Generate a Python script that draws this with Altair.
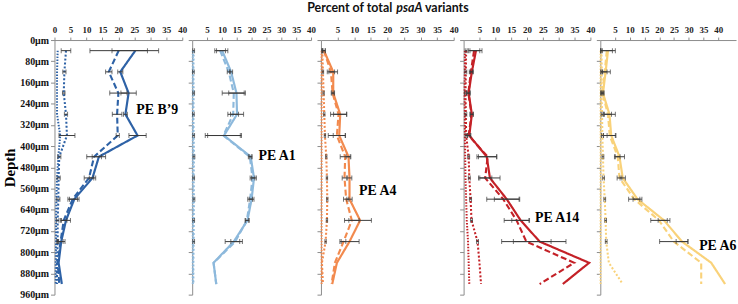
import altair as alt
import pandas as pd

# ---------------- data ----------------
depths = [40, 120, 200, 280, 360, 440, 520, 600, 680, 760, 840, 920]
depth_ticks = [0, 80, 160, 240, 320, 400, 480, 560, 640, 720, 800, 880, 960]
series_names = ["solid", "dashed", "dotA", "dotB"]

panel_labels = ["PE B\u20199", "PE A1", "PE A4", "PE A14", "PE A6"]
panel_colors = ["#2E62A6", "#8DB9DC", "#F28A4E", "#C42127", "#F9D27A"]

# PE B'9
b9_solid = [25.3, 20.6, 23.2, 22.2, 26.0, 13.9, 11.9, 6.2, 3.6, 2.1, 1.3, 2.3]
b9_dashed = [20.1, 17.0, 20.0, 19.6, 19.8, 12.4, 10.8, 5.7, 2.9, 1.9, 1.0, 1.5]
b9_dotA = [3.6, 3.1, 2.9, 3.6, 3.9, 1.5, 1.3, 1.2, 1.0, 1.0, 0.8, 0.8]
b9_dotB = [1.0, 0.8, 0.8, 0.8, 1.8, 1.2, 0.8, 0.6, 0.5, 0.5, 0.4, 0.4]
b9_solid_err = [7.3, 0.8, 2.4, 0.6, 2.7, 2.1, 1.0, 1.5, 1.4, 1.2]
b9_dashed_err = [9.0, 1.0, 2.7, 1.5, 0.5, 2.3, 1.5, 1.5, 1.0, 0.8]
b9_dotA_err = [1.5, 0.5, 0.4, 0.5, 2.5, 0.5, 0.5, 0.5, 0.4, 0.3]

# PE A1
a1_solid = [10.1, 13.1, 14.9, 15.1, 10.7, 19.7, 20.8, 20.0, 18.6, 14.0, 7.2, 8.1]
a1_dashed = [9.4, 12.3, 14.0, 13.8, 10.5, 19.4, 20.3, 19.5, 18.4, 14.5, 7.2, 8.1]
a1_dotA = [0.5, 0.4, 0.5, 0.4, 0.5, 0.6, 0.5, 0.6, 0.5, 0.5, 0.4, 0.4]
a1_dotB = [0.2, 0.2, 0.2, 0.2, 0.2, 0.2, 0.2, 0.2, 0.2, 0.2, 0.2, 0.2]
a1_solid_err = [1.9, 0.5, 2.6, 2.2, 5.5, 0.5, 0.8, 0.8, 0.6, 2.9]
a1_dashed_err = [1.8, 0.5, 3.9, 1.8, 6.1, 0.5, 0.8, 0.8, 0.6, 1.5]
a1_dotA_err = [0.3, 0.3, 0.3, 0.3, 0.3, 0.3, 0.3, 0.3, 0.3, 0.3]

# PE A4
a4_solid = [0.9, 3.7, 3.7, 5.8, 5.5, 8.3, 8.6, 8.6, 11.8, 8.6, 4.8, 3.4]
a4_dashed = [0.9, 3.0, 3.5, 5.3, 4.8, 7.3, 7.1, 7.6, 9.3, 6.8, 4.2, 3.2]
a4_dotA = [0.4, 0.6, 0.8, 1.0, 1.2, 1.6, 1.8, 1.9, 1.8, 1.4, 0.3, 0.6]
a4_dotB = [0.2, 0.2, 0.2, 0.2, 0.2, 0.2, 0.2, 0.2, 0.2, 0.2, 0.2, 0.2]
a4_solid_err = [0.4, 1.3, 0.4, 2.0, 1.8, 0.7, 0.7, 0.8, 3.4, 2.9]
a4_dashed_err = [0.4, 1.1, 0.4, 2.4, 2.6, 1.5, 0.7, 0.8, 2.2, 0.7]
a4_dotA_err = [0.2, 0.2, 0.2, 0.2, 0.2, 0.2, 0.2, 0.2, 0.2, 0.2]

# PE A14
a14_solid = [3.9, 2.6, 1.6, 2.6, 1.8, 7.3, 8.3, 13.6, 18.0, 24.0, 39.6, 31.3]
a14_dashed = [3.3, 2.3, 1.5, 2.5, 1.6, 7.6, 6.8, 12.5, 16.7, 19.8, 34.9, 24.0]
a14_dotA = [0.8, 0.7, 0.6, 0.7, 0.8, 1.6, 1.8, 2.2, 2.5, 4.4, 5.0, 5.5]
a14_dotB = [0.4, 0.4, 0.3, 0.4, 0.4, 0.5, 0.6, 0.8, 1.0, 1.4, 1.6, 1.8]
a14_solid_err = [1.9, 0.5, 0.5, 0.5, 0.5, 3.1, 3.2, 3.9, 2.8, 8.3]
a14_dashed_err = [1.8, 0.5, 0.5, 0.5, 0.5, 2.9, 2.1, 5.2, 3.9, 7.8]
a14_dotA_err = [0.3, 0.3, 0.3, 0.3, 0.3, 0.3, 0.3, 0.3, 0.3, 0.3]

# PE A6
a6_solid = [2.6, 1.8, 0.9, 3.1, 3.7, 6.5, 7.6, 12.6, 21.6, 27.7, 37.6, 42.3]
a6_dashed = [2.2, 1.5, 0.7, 2.6, 3.2, 5.9, 6.5, 11.5, 19.9, 24.9, 34.2, 34.2]
a6_dotA = [0.4, 0.5, 0.4, 0.6, 0.7, 0.9, 1.1, 1.5, 1.8, 2.0, 2.9, 7.6]
a6_dotB = [0.1, 0.1, 0.1, 0.1, 0.1, 0.1, 0.1, 0.1, 0.1, 0.1, 0.1, 0.1]
a6_solid_err = [2.5, 1.6, 0.4, 2.0, 1.4, 1.7, 0.9, 1.5, 2.0, 2.0]
a6_dashed_err = [1.9, 0.8, 0.4, 1.2, 2.1, 0.8, 0.8, 1.9, 2.8, 4.8]
a6_dotA_err = [0.3, 0.3, 0.3, 0.3, 0.3, 0.3, 0.3, 0.3, 0.3, 0.3]

# label anchor (x value, depth) per panel
label_x = [25.6, 22.3, 11.5, 22.5, 33.5]
label_depth = [265, 438, 570, 672, 775]

panel_data = [
    (b9_solid, b9_dashed, b9_dotA, b9_dotB, b9_solid_err, b9_dashed_err, b9_dotA_err),
    (a1_solid, a1_dashed, a1_dotA, a1_dotB, a1_solid_err, a1_dashed_err, a1_dotA_err),
    (a4_solid, a4_dashed, a4_dotA, a4_dotB, a4_solid_err, a4_dashed_err, a4_dotA_err),
    (a14_solid, a14_dashed, a14_dotA, a14_dotB, a14_solid_err, a14_dashed_err, a14_dotA_err),
    (a6_solid, a6_dashed, a6_dotA, a6_dotB, a6_solid_err, a6_dashed_err, a6_dotA_err),
]

# ---------------- layout ----------------
panel_widths = [129, 120, 134, 128, 137]
panel_xmax = [40, 40, 40, 40, 46]
PLOT_H = 257
SERIF = "Liberation Serif"
AX_GREY = "#8C8C8C"
ERR_COL = "#3A3A3A"


def make_panel(i):
    solid, dashed, dotA, dotB, s_err, d_err, a_err = panel_data[i]
    color = panel_colors[i]
    rows = []
    for name, vals in zip(series_names, [solid, dashed, dotA, dotB]):
        for d, v in zip(depths, vals):
            rows.append({"depth": d, "value": v, "series": name})
    df = pd.DataFrame(rows)

    erows = []
    caps = []
    for vals, errs in [(solid, s_err), (dashed, d_err), (dotA, a_err)]:
        for d, v, e in zip(depths, vals, errs):
            erows.append({"depth": d, "lo": v - e, "hi": v + e})
            caps.append({"depth": d, "cap": v - e})
            caps.append({"depth": d, "cap": v + e})
    edf = pd.DataFrame(erows)
    cdf = pd.DataFrame(caps)

    xs = alt.Scale(domain=[0, panel_xmax[i]], nice=False, zero=False)
    ys = alt.Scale(domain=[0, 960], reverse=True, nice=False, zero=False)
    xvals = list(range(0, 45, 5)) if i == 0 else list(range(5, 45, 5))
    xaxis = alt.Axis(orient="top", values=xvals, title=None, labelFont=SERIF,
                     labelFontWeight="bold", labelFontSize=9, labelColor="#222",
                     domainColor=AX_GREY, tickColor=AX_GREY, tickSize=3,
                     labelPadding=3, grid=False, labelFlush=False)
    if i == 0:
        yaxis = alt.Axis(values=depth_ticks, labelExpr="datum.value + '\u00b5m'",
                         title="Depth", titleFont=SERIF, titleFontWeight="bold",
                         titleFontSize=15, titleColor="black", titlePadding=2,
                         labelFont=SERIF, labelFontWeight="bold", labelFontSize=10,
                         labelColor="#111", domainColor=AX_GREY, tickColor=AX_GREY,
                         tickSize=4, labelPadding=2, grid=False)
    else:
        yaxis = alt.Axis(values=depth_ticks, labels=False, title=None,
                         domainColor=AX_GREY, tickColor=AX_GREY, tickSize=4, grid=False)

    def X(field):
        return alt.X(field, scale=xs, axis=xaxis)

    def Y():
        return alt.Y("depth:Q", scale=ys, axis=yaxis)

    lines = alt.Chart(df).mark_line(color=color, clip=False).encode(
        x=X("value:Q"),
        y=Y(),
        strokeDash=alt.StrokeDash("series:N", scale=alt.Scale(
            domain=series_names, range=[[1, 0], [6, 3], [2, 2], [1.5, 1.5]]), legend=None),
        strokeWidth=alt.StrokeWidth("series:N", scale=alt.Scale(
            domain=series_names, range=[2.2, 2.0, 1.5, 1.2]), legend=None),
        order=alt.Order("depth:Q"),
    )
    rules = alt.Chart(edf).mark_rule(color=ERR_COL, strokeWidth=1).encode(
        x=X("lo:Q"), x2="hi:Q", y=Y())
    capm = alt.Chart(cdf).mark_tick(orient="vertical", color=ERR_COL, size=5,
                                    thickness=1).encode(x=X("cap:Q"), y=Y())
    ldf = pd.DataFrame({"x": [label_x[i]], "depth": [label_depth[i]], "t": [panel_labels[i]]})
    label = alt.Chart(ldf).mark_text(align="left", baseline="middle", font=SERIF,
                                     fontWeight="bold", fontSize=14, color="black").encode(
        x=X("x:Q"), y=Y(), text="t:N")

    layers = [lines, rules, capm, label]
    if i == 2:
        tfont = "Lato"
        t1 = alt.Chart(pd.DataFrame({"t": ["Percent of total"]})).mark_text(
            align="right", baseline="middle", font=tfont, fontSize=12.5, fontWeight="bold",
            color="#111").encode(text="t:N", x=alt.value(72), y=alt.value(-32))
        t2 = alt.Chart(pd.DataFrame({"t": ["psaA"]})).mark_text(
            align="left", baseline="middle", font=tfont, fontSize=12.5, fontWeight="bold",
            fontStyle="italic", color="#111").encode(text="t:N", x=alt.value(76), y=alt.value(-32))
        t3 = alt.Chart(pd.DataFrame({"t": ["variants"]})).mark_text(
            align="left", baseline="middle", font=tfont, fontSize=12.5, fontWeight="bold",
            color="#111").encode(text="t:N", x=alt.value(105), y=alt.value(-32))
        layers += [t1, t2, t3]
    return alt.layer(*layers).properties(width=panel_widths[i], height=PLOT_H)


chart = alt.hconcat(*[make_panel(i) for i in range(5)], spacing=10, bounds="flush").properties(
    padding={"left": 2, "top": 1, "right": 0, "bottom": 0}
).configure_view(stroke=None).configure_axis(grid=False)

chart.save("out.html", embed_options={"renderer": "svg", "actions": False})
